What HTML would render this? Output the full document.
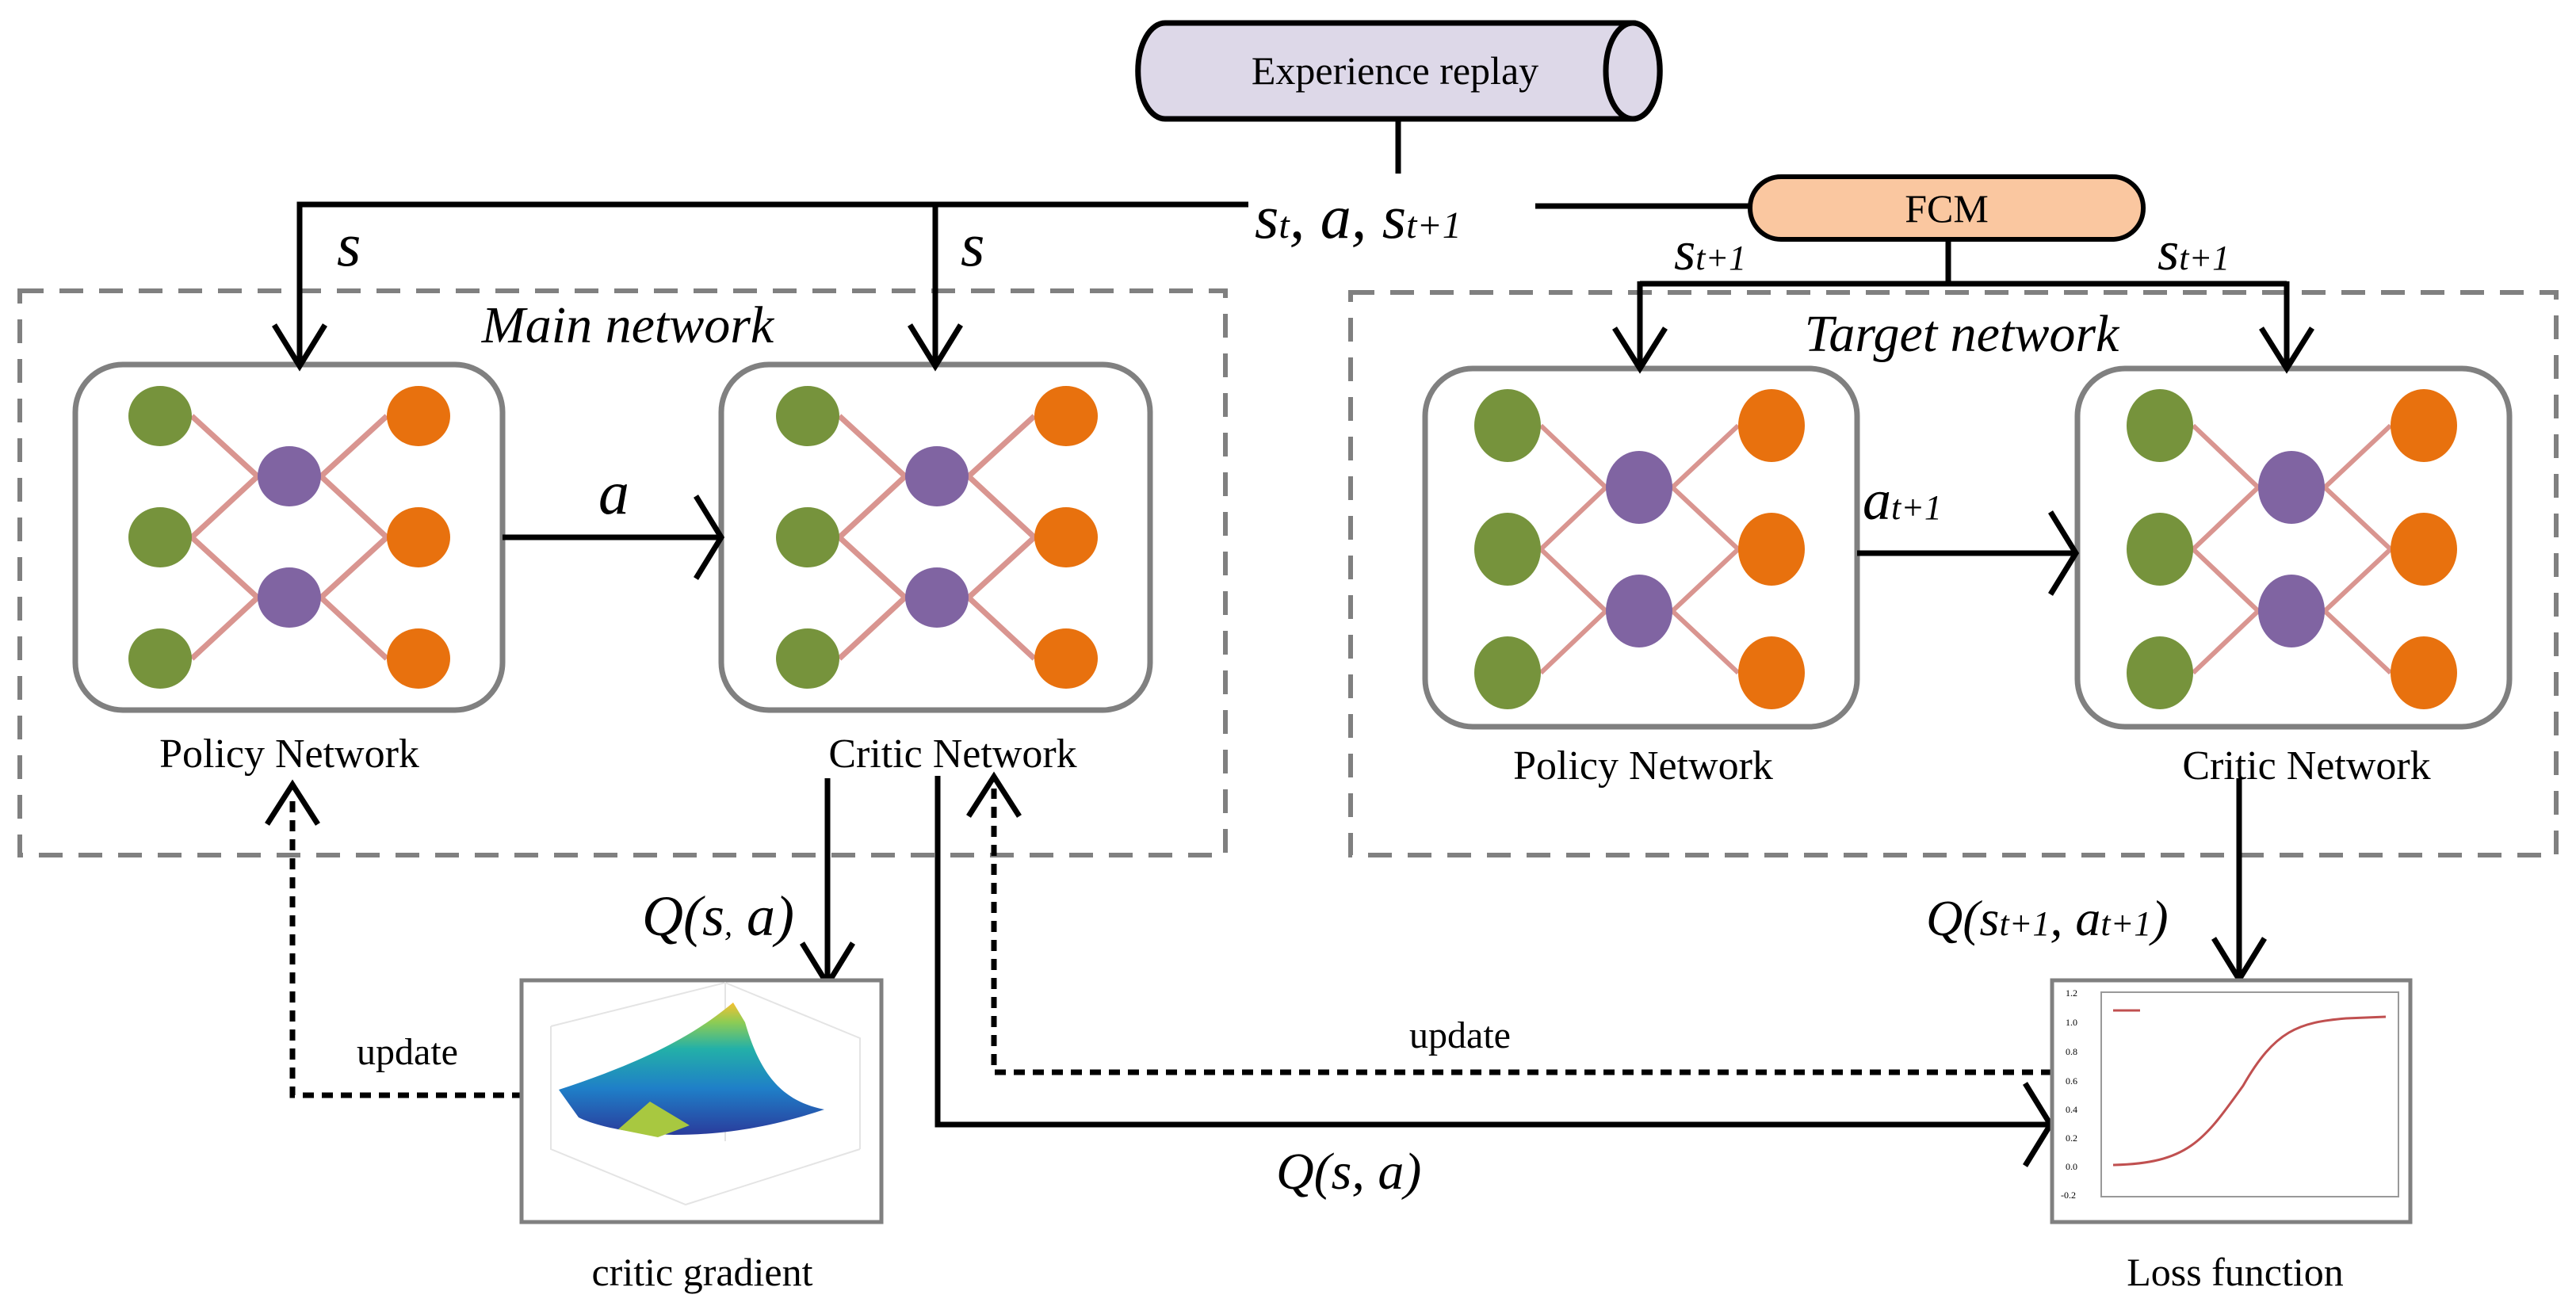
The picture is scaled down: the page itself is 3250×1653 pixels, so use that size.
<!DOCTYPE html>
<html><head><meta charset="utf-8"><style>
html,body{margin:0;padding:0;background:#fff;}
svg{display:block;}
text{font-family:"Liberation Serif",serif;fill:#000;}
</style></head><body>
<svg width="3250" height="1653" viewBox="0 0 3250 1653" xmlns="http://www.w3.org/2000/svg">
<defs>
<g id="netM">
 <g stroke="#d99590" stroke-width="7" fill="none">
  <path d="M147 65L230 141M147 218L230 141M147 218L230 294M147 371L230 294M310 141L393 65M310 141L393 218M310 294L393 218M310 294L393 371"/>
 </g>
 <g fill="#76933c"><ellipse cx="107" cy="65" rx="40" ry="38"/><ellipse cx="107" cy="218" rx="40" ry="38"/><ellipse cx="107" cy="371" rx="40" ry="38"/></g>
 <g fill="#8064a2"><ellipse cx="270" cy="141" rx="40" ry="38"/><ellipse cx="270" cy="294" rx="40" ry="38"/></g>
 <g fill="#e8710e"><ellipse cx="433" cy="65" rx="40" ry="38"/><ellipse cx="433" cy="218" rx="40" ry="38"/><ellipse cx="433" cy="371" rx="40" ry="38"/></g>
</g>
<g id="netT">
 <g stroke="#d99590" stroke-width="6" fill="none">
  <path d="M146 72L228 150M146 228L228 150M146 228L228 306M146 384L228 306M312 150L395 72M312 150L395 228M312 306L395 228M312 306L395 384"/>
 </g>
 <g fill="#76933c"><ellipse cx="104" cy="72" rx="42" ry="46"/><ellipse cx="104" cy="228" rx="42" ry="46"/><ellipse cx="104" cy="384" rx="42" ry="46"/></g>
 <g fill="#8064a2"><ellipse cx="270" cy="150" rx="42" ry="46"/><ellipse cx="270" cy="306" rx="42" ry="46"/></g>
 <g fill="#e8710e"><ellipse cx="437" cy="72" rx="42" ry="46"/><ellipse cx="437" cy="228" rx="42" ry="46"/><ellipse cx="437" cy="384" rx="42" ry="46"/></g>
</g>
<linearGradient id="surf" x1="0" y1="1" x2="0" y2="0">
 <stop offset="0" stop-color="#2a3c9c"/><stop offset="0.35" stop-color="#1f7fc8"/><stop offset="0.65" stop-color="#23b0a8"/><stop offset="0.85" stop-color="#8ccc55"/><stop offset="1" stop-color="#f5c030"/>
</linearGradient>
</defs>

<!-- dashed boxes -->
<rect x="25" y="367" width="1521" height="712" fill="none" stroke="#808080" stroke-width="6" stroke-dasharray="30,20"/>
<rect x="1704" y="369" width="1521" height="710" fill="none" stroke="#808080" stroke-width="6" stroke-dasharray="30,20"/>

<!-- network boxes -->
<rect x="95" y="460" width="539" height="436" rx="60" fill="#fff" stroke="#808080" stroke-width="7"/>
<rect x="910" y="460" width="541" height="436" rx="60" fill="#fff" stroke="#808080" stroke-width="7"/>
<rect x="1798" y="465" width="545" height="452" rx="60" fill="#fff" stroke="#808080" stroke-width="7"/>
<rect x="2621" y="465" width="545" height="452" rx="60" fill="#fff" stroke="#808080" stroke-width="7"/>
<use href="#netM" x="95" y="460"/>
<use href="#netM" x="912" y="460"/>
<use href="#netT" x="1798" y="465"/>
<use href="#netT" x="2621" y="465"/>

<!-- experience replay cylinder -->
<path d="M1470 29 H2060 A34 60 0 0 1 2060 150 H1470 A34 60 0 0 1 1470 29 Z" fill="#ddd8e8" stroke="#000" stroke-width="7"/>
<ellipse cx="2060" cy="89.5" rx="34" ry="60.5" fill="#ddd8e8" stroke="#000" stroke-width="7"/>
<text x="1760" y="106" font-size="50" text-anchor="middle">Experience replay</text>

<!-- FCM -->
<rect x="2208" y="223" width="496" height="79" rx="39" fill="#fac7a0" stroke="#000" stroke-width="6"/>
<text x="2456" y="280" font-size="50" text-anchor="middle">FCM</text>

<g stroke="#000" stroke-width="7" fill="none" stroke-linejoin="miter">
 <path d="M1764 150V219"/>
 <path d="M1575 258H378V458"/>
 <path d="M1180 258V458"/>
 <path d="M1937 260H2208"/>
 <path d="M2458 302V358M2069 358H2885M2069 355V462M2885 355V462"/>
 <!-- arrowheads -->
 <path d="M346 410L378 462L410 410"/>
 <path d="M1148 410L1180 462L1212 410"/>
 <path d="M2037 414L2069 465L2101 414"/>
 <path d="M2853 414L2885 465L2917 414"/>
 <!-- a arrow -->
 <path d="M634 678H908M878 626L910 678L878 730"/>
 <path d="M2343 698H2617M2587 646L2619 698L2587 750"/>
 <!-- Q(s,a) down -->
 <path d="M1044 982V1240M1012 1190L1044 1242L1076 1190"/>
 <path d="M2825 982V1234M2793 1184L2825 1236L2857 1184"/>
 <!-- Q(s,a) long -->
 <path d="M1183 979V1419H2585M2555 1367L2587 1419L2555 1471"/>
</g>
<!-- dotted updates -->
<g stroke="#000" stroke-width="7" fill="none" stroke-dasharray="14,10">
 <path d="M660 1382H369V1002"/>
 <path d="M2589 1353H1254V995"/>
</g>
<g stroke="#000" stroke-width="7" fill="none">
 <path d="M337 1040L369 990L401 1040"/>
 <path d="M1222 1030L1254 980L1286 1030"/>
</g>

<!-- critic gradient plot -->
<rect x="658" y="1237" width="454" height="305" fill="#fff" stroke="#808080" stroke-width="5"/>
<g stroke="#e4e4e4" stroke-width="2" fill="none">
 <path d="M695 1295L915 1240L1085 1310V1450M915 1240V1440M695 1295V1450L865 1520L1085 1450"/>
</g>
<path d="M705 1375C780 1350 860 1320 925 1265L940 1290C960 1360 990 1390 1040 1400C980 1420 920 1432 850 1432C790 1430 750 1420 730 1410Z" fill="url(#surf)"/>
<path d="M780 1425L820 1390L870 1420L830 1435Z" fill="#a8c840"/>
<text x="886" y="1622" font-size="50" text-anchor="middle">critic gradient</text>

<!-- loss function plot -->
<rect x="2589" y="1237" width="452" height="305" fill="#fff" stroke="#808080" stroke-width="5"/>
<rect x="2651" y="1252" width="375" height="258" fill="none" stroke="#999" stroke-width="2"/>
<path d="M2666 1470 C2760 1468,2780 1440,2830 1370 C2870 1300,2900 1290,2960 1285 L3010 1283" fill="none" stroke="#c05050" stroke-width="3"/>
<line x1="2666" y1="1275" x2="2700" y2="1275" stroke="#c05050" stroke-width="3"/>
<g font-size="12" fill="#888"><text x="2606" y="1257">1.2</text><text x="2606" y="1294">1.0</text><text x="2606" y="1331">0.8</text><text x="2606" y="1368">0.6</text><text x="2606" y="1404">0.4</text><text x="2606" y="1440">0.2</text><text x="2606" y="1476">0.0</text><text x="2600" y="1512">-0.2</text></g>
<text x="2820" y="1622" font-size="50" text-anchor="middle">Loss function</text>

<!-- labels -->
<g font-style="italic">
 <text x="1583" y="300" font-size="78">s<tspan font-size="48">t</tspan>, a, s<tspan font-size="48">t+1</tspan></text>
 <text x="425" y="335" font-size="78">s</text>
 <text x="1212" y="335" font-size="78">s</text>
 <text x="2112" y="340" font-size="70">s<tspan font-size="44">t+1</tspan></text>
 <text x="2722" y="340" font-size="70">s<tspan font-size="44">t+1</tspan></text>
 <text x="792" y="432" font-size="66" text-anchor="middle">Main network</text>
 <text x="2475" y="443" font-size="66" text-anchor="middle">Target network</text>
 <text x="755" y="648" font-size="78">a</text>
 <text x="2350" y="655" font-size="72">a<tspan font-size="44">t+1</tspan></text>
 <text x="810" y="1180" font-size="72">Q(s<tspan font-size="40">,</tspan> a)</text>
 <text x="2430" y="1180" font-size="64">Q(s<tspan font-size="44">t+1</tspan>, a<tspan font-size="44">t+1</tspan>)</text>
 <text x="1610" y="1500" font-size="66">Q(s, a)</text>
</g>
<g font-size="52" text-anchor="middle">
 <text x="365" y="968">Policy Network</text>
 <text x="1202" y="968">Critic Network</text>
 <text x="2073" y="983">Policy Network</text>
 <text x="2910" y="983">Critic Network</text>
 <text x="514" y="1343" font-size="48">update</text>
 <text x="1842" y="1322" font-size="48">update</text>
</g>
</svg>
</body></html>
